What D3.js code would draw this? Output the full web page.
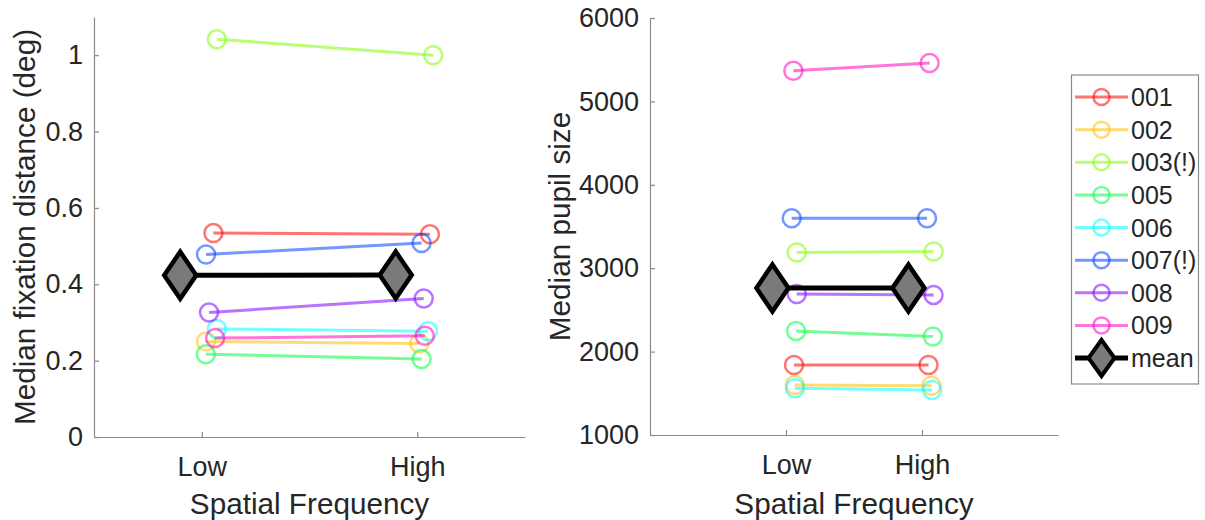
<!DOCTYPE html>
<html>
<head>
<meta charset="utf-8">
<script src="https://cdn.jsdelivr.net/npm/d3@7"></script>
<style>
  body { margin: 0; background: #fff; }
  text { font-family: "Liberation Sans", Arial, Helvetica, sans-serif; fill: #262626; }
</style>
</head>
<body>
<div id="chart-area"></div>
<script>
// subjects and their colours (hsv-like palette, lightened)
let subjects = ["001", "002", "003(!)", "005", "006", "007(!)", "008", "009"];
let subjectColors = ["#ff0000", "#ffbf00", "#80ff00", "#00ff40", "#00ffff", "#0040ff", "#8000ff", "#ff00bf"];
let conditions = ["Low", "High"];

// left panel: median fixation distance (deg)
let fixLow  = [0.534, 0.250, 1.042, 0.217, 0.283, 0.478, 0.326, 0.259];
let fixHigh = [0.531, 0.245, 1.000, 0.204, 0.277, 0.508, 0.363, 0.265];
let fixJitterLow  = [0.054, 0.020, 0.070, 0.019, 0.070, 0.020, 0.034, 0.062];
let fixJitterHigh = [0.059, 0.010, 0.074, 0.020, 0.050, 0.020, 0.030, 0.035];
let fixTicks = [0, 0.2, 0.4, 0.6, 0.8, 1];

// right panel: median pupil size
let pupilLow  = [1840, 1600, 3188, 2248, 1560, 3600, 2690, 5368];
let pupilHigh = [1840, 1590, 3200, 2180, 1540, 3600, 2680, 5460];
let pupilJitterLow  = [0.059, 0.065, 0.079, 0.074, 0.066, 0.042, 0.079, 0.054];
let pupilJitterHigh = [0.048, 0.070, 0.085, 0.080, 0.074, 0.037, 0.085, 0.056];
let pupilTicks = [1000, 2000, 3000, 4000, 5000, 6000];

let meanOffset = -0.1;

const W = 1205, H = 520;
const svg = d3.select('#chart-area').append('svg').attr('width', W).attr('height', H);

// diamond path, taller than wide like the matlab marker
function diamond(hw, hh){
  return `M0,${-hh}L${hw},0L0,${hh}L${-hw},0Z`;
}

function drawPanel(opt){
  let x = d3.scaleLinear().domain(opt.xDomain).range([opt.left, opt.right]);
  let y = d3.scaleLinear().domain(opt.yDomain).range([opt.bottom, opt.top]);
  let g = svg.append('g');

  // axes
  let yAxis = d3.axisLeft(y).tickValues(opt.yTicks).tickSizeInner(-5).tickSizeOuter(0).tickPadding(11)
                .tickFormat(opt.yFormat);
  let ya = g.append('g').attr('transform', `translate(${opt.left},0)`).call(yAxis);
  let xAxis = d3.axisBottom(x).tickValues([1, 2]).tickSizeInner(-5).tickSizeOuter(0).tickPadding(0)
                .tickFormat((d, i) => conditions[i]);
  let xa = g.append('g').attr('transform', `translate(0,${opt.bottom})`).call(xAxis);
  [ya, xa].forEach(a => {
    a.select('.domain').attr('stroke', '#8a8a8a').attr('stroke-width', 1.2);
    a.selectAll('.tick line').attr('stroke', '#8a8a8a').attr('stroke-width', 1.2);
    a.selectAll('text').style('font-size', '27px').attr('fill', '#262626');
  });
  xa.selectAll('text').attr('dy', null).attr('y', 39);

  // axis labels
  g.append('text').attr('x', (opt.left + opt.right) / 2).attr('y', 514)
    .attr('text-anchor', 'middle').style('font-size', '29.7px').text('Spatial Frequency');
  g.append('text').attr('transform', `translate(${opt.ylabelX},${(opt.top + opt.bottom) / 2}) rotate(-90)`)
    .attr('text-anchor', 'middle').style('font-size', '29.7px').text(opt.ylabel);

  // subjects
  subjects.forEach((s, i) => {
    let pts = [[1 + opt.jLow[i], opt.low[i]], [2 + opt.jHigh[i], opt.high[i]]];
    let c = subjectColors[i];
    g.append('line')
      .attr('x1', x(pts[0][0])).attr('y1', y(pts[0][1]))
      .attr('x2', x(pts[1][0])).attr('y2', y(pts[1][1]))
      .attr('stroke', c).attr('stroke-opacity', 0.55).attr('stroke-width', 3);
    g.selectAll(null).data(pts).enter().append('circle')
      .attr('cx', d => x(d[0])).attr('cy', d => y(d[1])).attr('r', 9)
      .attr('fill', 'none').attr('stroke', c).attr('stroke-opacity', 0.55).attr('stroke-width', 2.5);
  });

  // mean
  let m = [[1 + meanOffset, d3.mean(opt.low)], [2 + meanOffset, d3.mean(opt.high)]];
  g.append('line')
    .attr('x1', x(m[0][0])).attr('y1', y(m[0][1]))
    .attr('x2', x(m[1][0])).attr('y2', y(m[1][1]))
    .attr('stroke', '#000').attr('stroke-width', 5);
  g.selectAll(null).data(m).enter().append('path')
    .attr('d', diamond(16, 23.5))
    .attr('transform', d => `translate(${x(d[0])},${y(d[1])})`)
    .attr('fill', '#7a7a7a').attr('stroke', '#000').attr('stroke-width', 4.5).attr('stroke-linejoin', 'miter');
}

drawPanel({left: 94, right: 525, top: 17, bottom: 437, xDomain: [0.5, 2.5], yDomain: [0, 1.1],
           yTicks: fixTicks, yFormat: d => d3.format('')(d), ylabel: 'Median fixation distance (deg)', ylabelX: 35,
           low: fixLow, high: fixHigh, jLow: fixJitterLow, jHigh: fixJitterHigh});

drawPanel({left: 650, right: 1058, top: 18, bottom: 435, xDomain: [0, 3], yDomain: [1000, 6000],
           yTicks: pupilTicks, yFormat: d => String(d), ylabel: 'Median pupil size', ylabelX: 570,
           low: pupilLow, high: pupilHigh, jLow: pupilJitterLow, jHigh: pupilJitterHigh});

// legend
let lg = svg.append('g');
let legendItems = subjects.map((s, i) => ({name: s, color: subjectColors[i], mean: false}))
                          .concat([{name: 'mean', color: '#000', mean: true}]);
lg.append('rect').attr('x', 1071.5).attr('y', 75).attr('width', 127).attr('height', 309)
  .attr('fill', '#fff').attr('stroke', '#8a8a8a').attr('stroke-width', 1.2);
let rowY = d3.scaleLinear().domain([0, legendItems.length - 1]).range([97, 358]);
legendItems.forEach((d, i) => {
  let yy = rowY(i);
  lg.append('line').attr('x1', 1075).attr('x2', 1128).attr('y1', yy).attr('y2', yy)
    .attr('stroke', d.color).attr('stroke-opacity', d.mean ? 1 : 0.55).attr('stroke-width', d.mean ? 5 : 3);
  if (d.mean) {
    lg.append('path').attr('d', diamond(13, 18)).attr('transform', `translate(1101.5,${yy})`)
      .attr('fill', '#7a7a7a').attr('stroke', '#000').attr('stroke-width', 4);
  } else {
    lg.append('circle').attr('cx', 1101.5).attr('cy', yy).attr('r', 8)
      .attr('fill', 'none').attr('stroke', d.color).attr('stroke-opacity', 0.55).attr('stroke-width', 2.5);
  }
  lg.append('text').attr('x', 1131).attr('y', yy + 9).style('font-size', '25px').attr('fill', '#111').text(d.name);
});
</script>
</body>
</html>
